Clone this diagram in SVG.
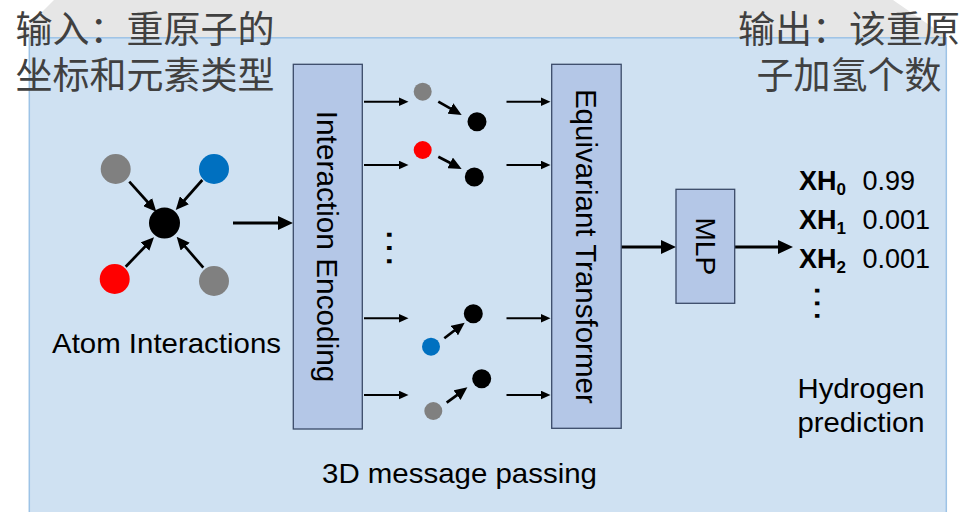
<svg xmlns="http://www.w3.org/2000/svg" width="963" height="512" viewBox="0 0 963 512">
<defs>
<style>
.cn{font-family:"Noto Sans CJK SC","Noto Sans",sans-serif;font-size:37px;fill:#404040}
.en{font-family:"Liberation Sans",Arial,sans-serif;fill:#000}
.box{fill:#b4c7e7;stroke:#3a4a68;stroke-width:1.3}
.ln{stroke:#000;fill:none}
.thick{stroke-width:3;marker-end:url(#ahL)}
.mid{stroke-width:2.7;marker-end:url(#ahM)}
.thin{stroke-width:2;marker-end:url(#ahS)}
.gray{fill:#808080}
.blue{fill:#0070c0}
.red{fill:#ff0000}
.blk{fill:#000}
</style>
<marker id="ahL" viewBox="0 0 10 10" refX="1" refY="5" markerWidth="15" markerHeight="14" markerUnits="userSpaceOnUse" orient="auto" preserveAspectRatio="none"><path d="M0,0 L10,5 L0,10 z" fill="#000"/></marker>
<marker id="ahM" viewBox="0 0 10 10" refX="1" refY="5" markerWidth="13" markerHeight="12" markerUnits="userSpaceOnUse" orient="auto" preserveAspectRatio="none"><path d="M0,0 L10,5 L0,10 z" fill="#000"/></marker>
<marker id="ahS" viewBox="0 0 10 10" refX="1" refY="5" markerWidth="10" markerHeight="9" markerUnits="userSpaceOnUse" orient="auto" preserveAspectRatio="none"><path d="M0,0 L10,5 L0,10 z" fill="#000"/></marker>
</defs>
<rect width="963" height="512" fill="#ffffff"/>
<polygon points="54,0 893,0 948,38 16,38" fill="#e6e6e6"/>
<rect id="panel" x="29.3" y="37.8" width="917" height="480" fill="#cfe1f2" stroke="#9dc3e6" stroke-width="1.5"/>

<g id="title-input">
<text class="cn" x="15.5" y="43">输入：重原子的</text>
<text class="cn" x="15.5" y="89">坐标和元素类型</text>
</g>
<g id="title-output">
<text class="cn" x="849" y="43" text-anchor="middle">输出：该重原</text>
<text class="cn" x="849" y="89" text-anchor="middle">子加氢个数</text>
</g>

<g id="connectors">
<path class="ln mid" d="M129.3,181.7 L148.5,203"/>
<path class="ln mid" d="M202.3,180 L183.5,201.25"/>
<path class="ln mid" d="M125.7,266.7 L145.9,245.7"/>
<path class="ln mid" d="M203.3,267.7 L184.3,245.6"/>
<path class="ln thick" d="M233,223 L279.5,223"/>
<path class="ln thin" d="M364,101.7 L399.5,101.7"/>
<path class="ln thin" d="M364,165 L399.5,165"/>
<path class="ln thin" d="M364,318.3 L399.5,318.3"/>
<path class="ln thin" d="M364,395 L399.5,395"/>
<path class="ln thin" d="M506.5,101.7 L541.5,101.7"/>
<path class="ln thin" d="M506.5,165 L541.5,165"/>
<path class="ln thin" d="M506.5,318.3 L541.5,318.3"/>
<path class="ln thin" d="M506.5,395 L541.5,395"/>
<path class="ln mid" d="M438.3,101.7 L451.5,109.2"/>
<path class="ln mid" d="M438.3,156.7 L451.3,163.5"/>
<path class="ln mid" d="M444.3,338.3 L455.4,329.8"/>
<path class="ln mid" d="M446.7,402.7 L458,394.3"/>
<path class="ln thick" d="M621,247 L662.5,247"/>
<path class="ln thick" d="M735,247 L779.5,247"/>
</g>

<g id="atom-interactions">
<g id="atom-gray-1"><circle class="gray" cx="115.7" cy="169" r="15"/></g>
<g id="atom-blue-1"><circle class="blue" cx="214" cy="169" r="15"/></g>
<g id="atom-center"><circle class="blk" cx="164.5" cy="223" r="15.5"/></g>
<g id="atom-red-1"><circle class="red" cx="114.7" cy="279" r="15"/></g>
<g id="atom-gray-2"><circle class="gray" cx="214" cy="281" r="15"/></g>
<text class="en" x="52" y="353" font-size="28" textLength="229" lengthAdjust="spacingAndGlyphs">Atom Interactions</text>
</g>

<g id="interaction-encoding">
<rect class="box" x="293.3" y="64.3" width="69" height="364.7"/>
<text class="en" transform="translate(316.6,246.6) rotate(90)" text-anchor="middle" font-size="29.8">Interaction Encoding</text>
</g>

<g id="message-passing">
<g id="msg-1"><circle class="gray" cx="422.7" cy="91.7" r="9"/><circle class="blk" cx="477" cy="121.7" r="9.5"/></g>
<g id="msg-2"><circle class="red" cx="422.7" cy="150" r="9"/><circle class="blk" cx="474.3" cy="177" r="9.5"/></g>
<g id="msg-3"><circle class="blue" cx="431" cy="346.7" r="9"/><circle class="blk" cx="473.3" cy="313.7" r="9.5"/></g>
<g id="msg-4"><circle class="gray" cx="433.3" cy="411" r="9"/><circle class="blk" cx="481.7" cy="378.7" r="9.5"/></g>
<text class="en" transform="translate(386.9,248) rotate(90)" text-anchor="middle" font-size="42">…</text>
<text class="en" x="322" y="483" font-size="28.5" textLength="275" lengthAdjust="spacingAndGlyphs">3D message passing</text>
</g>

<g id="equivariant-transformer">
<rect class="box" x="551.7" y="64.3" width="69.5" height="364"/>
<text class="en" transform="translate(575.8,246.3) rotate(90)" text-anchor="middle" font-size="29.5">Equivariant Transformer</text>
</g>

<g id="mlp">
<rect class="box" x="676" y="189.3" width="58.7" height="114"/>
<text class="en" transform="translate(695.5,246.3) rotate(90)" text-anchor="middle" font-size="28">MLP</text>
</g>

<g id="hydrogen-prediction">
<text class="en" y="189.5" font-size="27"><tspan x="799" font-weight="bold">XH</tspan><tspan font-weight="bold" font-size="17" dy="5.5">0</tspan><tspan x="862.5" dy="-5.5">0.99</tspan></text>
<text class="en" y="228.5" font-size="27"><tspan x="799" font-weight="bold">XH</tspan><tspan font-weight="bold" font-size="17" dy="5.5">1</tspan><tspan x="862.5" dy="-5.5">0.001</tspan></text>
<text class="en" y="267.5" font-size="27"><tspan x="799" font-weight="bold">XH</tspan><tspan font-weight="bold" font-size="17" dy="5.5">2</tspan><tspan x="862.5" dy="-5.5">0.001</tspan></text>
<text class="en" transform="translate(814.5,303.3) rotate(90)" text-anchor="middle" font-size="40">…</text>
<text class="en" x="797.5" y="398" font-size="28.5" textLength="127" lengthAdjust="spacingAndGlyphs">Hydrogen</text>
<text class="en" x="797.5" y="431.5" font-size="28.5" textLength="127" lengthAdjust="spacingAndGlyphs">prediction</text>
</g>
</svg>
